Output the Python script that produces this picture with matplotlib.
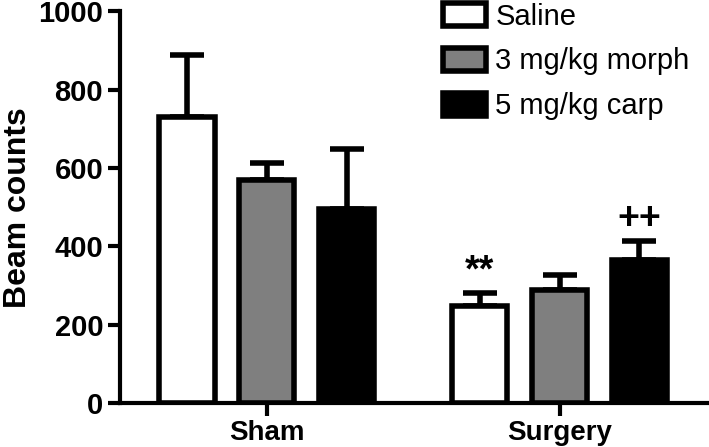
import matplotlib
matplotlib.use("Agg")
import matplotlib.pyplot as plt
import numpy as np

plt.rcParams['font.family'] = ['Liberation Sans', 'DejaVu Sans']

groups = ["Sham", "Surgery"]
series = ["Saline", "3 mg/kg morph", "5 mg/kg carp"]
means = {
    "Saline": [730, 247],
    "3 mg/kg morph": [569, 290],
    "5 mg/kg carp": [495, 366],
}
errors = {
    "Saline": [158, 33],
    "3 mg/kg morph": [43, 36],
    "5 mg/kg carp": [153, 47],
}
colors = ["#ffffff", "#7f7f7f", "#000000"]
annotations = {("Saline", 1): "**", ("5 mg/kg carp", 1): "++"}

fig = plt.figure(figsize=(7.09, 4.47), dpi=100)
ax = fig.add_axes([0.169, 0.098, 0.831, 0.877])

centers = np.array([0.0, 3.66])
width = 0.69
for i, s in enumerate(series):
    xs = centers + (i - 1)
    ax.bar(xs, means[s], width=width, color=colors[i], edgecolor="black",
           linewidth=4, label=s, zorder=3)
    ax.errorbar(xs, means[s], yerr=[np.zeros(2), errors[s]], fmt="none",
                ecolor="black", elinewidth=4, capsize=12, capthick=4, zorder=2)
    for j in range(2):
        if (s, j) in annotations:
            ax.text(xs[j], means[s][j] + errors[s][j] + 10, annotations[(s, j)],
                    ha="center", va="bottom", fontsize=27, fontweight="bold")

ax.set_xlim(-1.84, 5.53)
ax.set_ylim(0, 1000)
ax.set_yticks([0, 200, 400, 600, 800, 1000])
ax.set_xticks(centers)
ax.set_xticklabels(groups)
ax.tick_params(axis="y", width=3, length=9, labelsize=21, pad=3)
ax.tick_params(axis="x", width=3, length=9, labelsize=20, pad=3)
for lab in ax.get_xticklabels() + ax.get_yticklabels():
    lab.set_fontweight("bold")
ax.set_ylabel("Beam counts", fontsize=23, fontweight="bold", labelpad=4)
ax.spines["top"].set_visible(False)
ax.spines["right"].set_visible(False)
ax.spines["left"].set_linewidth(3)
ax.spines["bottom"].set_linewidth(3)

ax.legend(loc="upper left", bbox_to_anchor=(0.548, 1.022), frameon=False,
          fontsize=21, handlelength=1.5, handleheight=0.85, labelspacing=0.58,
          handletextpad=0.3, borderaxespad=0, borderpad=0)

fig.savefig("out.png", dpi=100)
